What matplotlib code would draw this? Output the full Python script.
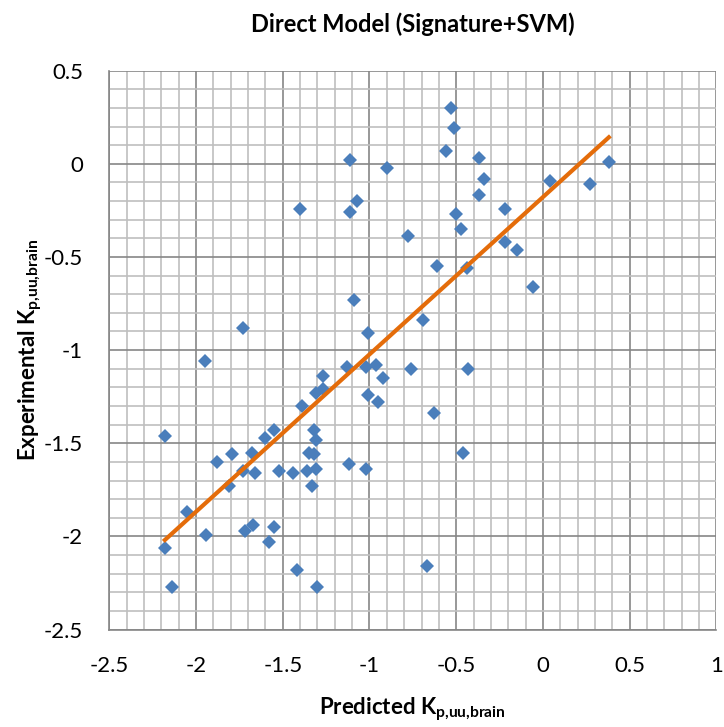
import numpy as np
import matplotlib
matplotlib.use("Agg")
import matplotlib.pyplot as plt
from matplotlib.ticker import MultipleLocator, FuncFormatter

plt.rcParams['font.family'] = ['Lato', 'DejaVu Sans']
plt.rcParams['mathtext.fontset'] = 'custom'
plt.rcParams['mathtext.rm'] = 'Lato'
plt.rcParams['mathtext.bf'] = 'Lato:bold'
plt.rcParams['axes.unicode_minus'] = False

# predicted vs experimental log Kp,uu,brain
predicted = [-1.11, -0.90, -1.40, -1.07, -1.11, -0.78, -1.09, -1.73, -1.01, -1.95,
             -0.53, -0.51, -0.56, -0.37, -0.34, -0.37, 0.04, 0.27, 0.38, -0.22,
             -0.50, -0.47, -0.22, -0.15, -0.61, -0.44, -0.06, -0.69, -1.13, -1.02,
             -0.96, -0.92, -0.76, -1.27, -1.31, -1.27, -1.39, -1.01, -0.95, -1.32,
             -1.31, -1.55, -1.60, -2.18, -1.88, -1.79, -1.68, -1.73, -1.66, -1.52,
             -1.44, -1.36, -1.31, -1.35, -1.32, -1.33, -1.12, -1.02, -1.81, -2.05,
             -1.94, -1.72, -1.67, -1.55, -1.58, -2.18, -2.14, -1.42, -1.30, -0.43,
             -0.63, -0.46, -0.67]
experimental = [0.02, -0.02, -0.24, -0.20, -0.26, -0.39, -0.73, -0.88, -0.91, -1.06,
                0.30, 0.19, 0.07, 0.03, -0.08, -0.17, -0.09, -0.11, 0.01, -0.24,
                -0.27, -0.35, -0.42, -0.46, -0.55, -0.56, -0.66, -0.84, -1.09, -1.09,
                -1.08, -1.15, -1.10, -1.14, -1.23, -1.21, -1.30, -1.24, -1.28, -1.43,
                -1.48, -1.43, -1.47, -1.46, -1.60, -1.56, -1.55, -1.65, -1.66, -1.65,
                -1.66, -1.65, -1.64, -1.55, -1.56, -1.73, -1.61, -1.64, -1.73, -1.87,
                -1.99, -1.97, -1.94, -1.95, -2.03, -2.06, -2.27, -2.18, -2.27, -1.10,
                -1.34, -1.55, -2.16]

x = np.array(predicted)
y = np.array(experimental)
slope, intercept = np.polyfit(x, y, 1)
xfit = np.array([x.min(), x.max()])

fig = plt.figure(figsize=(7.24, 7.27), dpi=100)
ax = fig.add_axes([0.151, 0.134, 0.8385, 0.7688])

ax.set_xlim(-2.5, 1)
ax.set_ylim(-2.5, 0.5)
ax.xaxis.set_major_locator(MultipleLocator(0.5))
ax.yaxis.set_major_locator(MultipleLocator(0.5))
ax.xaxis.set_minor_locator(MultipleLocator(0.1))
ax.yaxis.set_minor_locator(MultipleLocator(0.1))
fmt = FuncFormatter(lambda v, p: '%g' % round(v, 2))
ax.xaxis.set_major_formatter(fmt)
ax.yaxis.set_major_formatter(fmt)

ax.grid(which='minor', color='#bfbfbf', linewidth=1.2, zorder=0)
ax.grid(which='major', color='#868686', linewidth=1.2, zorder=0)
ax.set_axisbelow(True)
ax.tick_params(which='both', length=0, labelsize=16, colors='black')
ax.tick_params(axis='x', pad=19)
ax.tick_params(axis='y', pad=19)

for s in ax.spines.values():
    s.set_visible(False)
for side in ['left', 'bottom']:
    ax.spines[side].set_visible(True)
    ax.spines[side].set_color('#868686')
    ax.spines[side].set_linewidth(1.2)

ax.plot(x, y, linestyle='none', marker='D', markersize=7.6,
        markerfacecolor='#4a7ebb', markeredgewidth=0, zorder=3)
ax.plot(xfit, slope * xfit + intercept, color='#e46c0a', linewidth=3, zorder=4)

ax.set_title('Direct Model (Signature+SVM)', fontsize=17, fontweight='bold', pad=28)
ax.set_xlabel(r'Predicted K$_{\mathbf{p{,}uu{,}brain}}$', fontsize=16, fontweight='bold')
ax.set_ylabel(r'Experimental K$_{\mathbf{p{,}uu{,}brain}}$', fontsize=16, fontweight='bold')
ax.xaxis.set_label_coords(0.5, -0.117)
ax.yaxis.set_label_coords(-0.1075, 0.5)

fig.savefig('out.png', dpi=100)
